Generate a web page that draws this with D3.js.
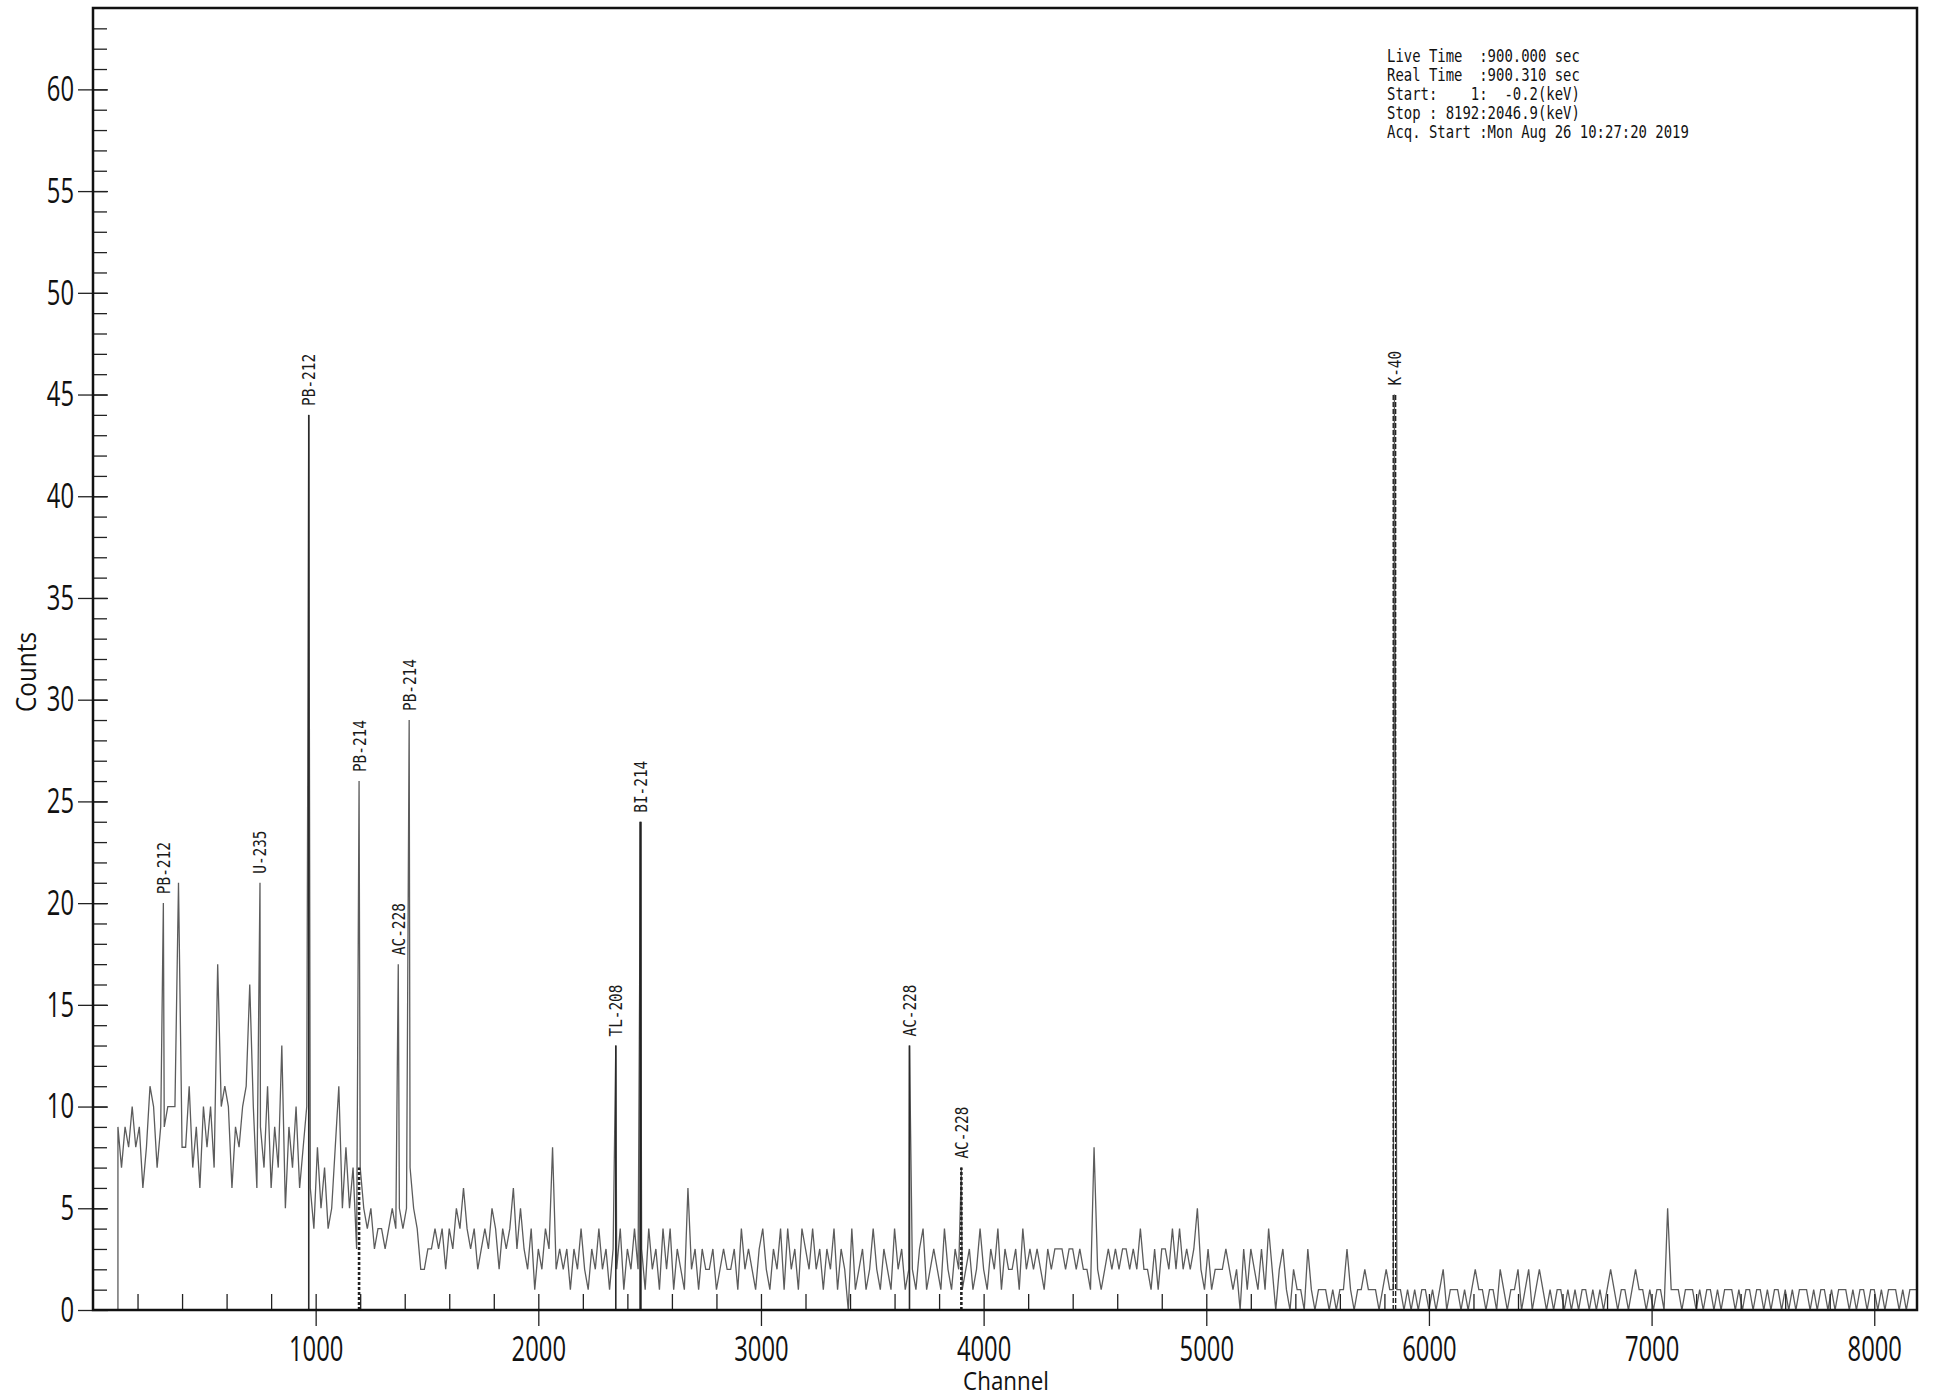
<!DOCTYPE html>
<html>
<head>
<meta charset="utf-8">
<script src="https://cdn.jsdelivr.net/npm/d3@7"></script>
<style>
  html, body { margin: 0; padding: 0; background: #fff; }
  svg { display: block; }
</style>
</head>
<body>
<script>
// Gamma spectrum, 8192 channels, 900 s live time.
// Counts are listed every 16 channels from channel 112; identified peaks are
// listed separately at their own channels.
const startChannel = 112;
const channelStep = 16;
const counts = [
  // 112 – 960
  9,7,9,8,10,8,9,6,8,11, 10,7,9,9,10,10,10,21,8,8, 11,7,9,6,10,8,10,7,17,10,
  11,10,6,9,8,10,11,16,10,6, 9,7,11,6,9,7,13,5,9,7, 10,6,8,10,
  // 976 – 1424
  6,4,8,5,7,4,5,8,11,5, 8,5,7,3,7,5,4,5,3,4, 4,3,4,5,4,5,4,5,7,
  // 1440 – 2048
  5,4,2, 2,3,3,4,3,4,2, 4,3,5,4,6,4,3,4,2,3, 4,3,5,4,2,4,3,4,6,3, 5,3,2,4,1,3,2,4,3,
  // 2064 – 2448
  8, 2,3,2,3,1,3,2,4,2,1,3,2,4,2,3,1,3, 2,4,1,3,2,4,2,
  // 2464 – 3664
  3,1,4,2,3,1,4,2,4,1, 3,2,1,6,2,3,1,3,2,2, 3,1,2,3,2,2,3,1,4,2, 3,2,1,3,4,2,1,3,2,4,
  1,4,2,3,1,4,3,2,4,2, 3,1,3,2,4,1,3,2,0,4, 1,2,3,1,2,4,2,1,3,2, 1,4,2,3,1,2,
  // 3680 – 3888
  2,1,3,4,1,2,3,2,1,4,2,1,3,2,
  // 3904 – 4480
  1,2,3,1,2,4,2,1,3,2, 4,1,3,2,2,3,1,4,2,3, 2,3,2,1,3,2,3,3,3,2, 3,3,2,3,2,2,1,
  // 4496
  8,
  // 4512 – 5200
  2,1,2,3,2,3,2,3,3,2, 3,2,4,2,2,1,3,1,3,3, 2,4,2,4,2,3,2,3,5,2, 1,3,1,2,2,2,3,2,1,2, 0,3,1,3,
  // 5216 – 5840
  2,1,3,1,4,2,0,2,3,1, 0,2,1,1,0,3,1,0,1,1, 1,0,1,0,1,1,3,1,0,1, 1,2,1,1,1,0,1,2,1,1,
  // 5856 – 8192
  1,1,0,1,0,1,0,1,1,0,1,0,1, 2, 0,1,1,1,0,1,0,1, 2, 1,1,0,1,1,0, 2, 1,0,1,1,
  2,0,1,2,0,1,2,
  1,0,1,0,1,1,0,1,0,1,0,1,1,0,1,0,1,0,1, 2, 1,0,1,1,0,1, 2, 1,1,0,1,0,1,1,0, 5,
  1,1,1,0,1,1,1,0,1,0, 1,1,0,1,0,1,1,1,0,1, 0,1,1,0,1,1,0,1,0,1, 1,0,1,0,1,0,1,1,1,0,
  1,0,1,1,0,1,0,1,1,1, 0,1,0,1,1,0,1,1,0,1, 0,1,1,1,0,1,0,1,1,1
];

// Identified peaks
const peakLabels   = ["PB-212", "U-235", "PB-212", "PB-214", "AC-228", "PB-214", "TL-208", "BI-214", "AC-228", "AC-228", "K-40"];
const peakChannels = [316, 750, 969, 1195, 1371, 1420, 2348, 2459, 3667, 3900, 5845];
const peakCounts   = [20, 21, 44, 26, 17, 29, 13, 24, 13, 7, 45];

// Region markers drawn from the baseline
const markerChannels = [969, 1195, 2348, 2459, 3667, 3900, 5845];
const markerTops     = [44, 7, 13, 24, 13, 7, 45];

// Axes
const xTickValues = [1000, 2000, 3000, 4000, 5000, 6000, 7000, 8000];
const yTickValues = [0, 5, 10, 15, 20, 25, 30, 35, 40, 45, 50, 55, 60];
const xTitle = "Channel";
const yTitle = "Counts";

// Acquisition info
const infoLines = [
  "Live Time  :900.000 sec",
  "Real Time  :900.310 sec",
  "Start:    1:  -0.2(keV)",
  "Stop : 8192:2046.9(keV)",
  "Acq. Start :Mon Aug 26 10:27:20 2019"
];

// ---------------------------------------------------------------------------
(function () {
const W = 1935, H = 1399;
const plotLeft = 93, plotRight = 1917, plotTop = 8, plotBottom = 1310;

const x = d3.scaleLinear().domain([0, 8192]).range([plotLeft, plotRight]);
const y = d3.scaleLinear().domain([0, 64]).range([plotBottom, plotTop]);

const svg = d3.select("body").append("svg")
  .attr("width", W).attr("height", H)
  .attr("viewBox", `0 0 ${W} ${H}`);

svg.append("rect").attr("width", W).attr("height", H).attr("fill", "#fff");

const tickFont = "'Open Sans', 'DejaVu Sans', sans-serif";
const monoFont = "'DejaVu Sans Mono', 'Liberation Mono', monospace";
const tickScale = 0.68;

// ---- spectrum trace
const points = [{ ch: startChannel, c: 0 }]
  .concat(counts.map((c, i) => ({ ch: startChannel + i * channelStep, c })))
  .concat(peakChannels.map((ch, i) => ({ ch, c: peakCounts[i] })))
  .sort((a, b) => a.ch - b.ch);

svg.append("defs").append("clipPath").attr("id", "plot-clip")
  .append("rect").attr("x", plotLeft).attr("y", plotTop)
  .attr("width", plotRight - plotLeft).attr("height", plotBottom - plotTop);

const plot = svg.append("g").attr("clip-path", "url(#plot-clip)");

const line = d3.line().x(d => x(d.ch)).y(d => y(d.c));

plot.append("path")
  .datum(points)
  .attr("d", line)
  .attr("fill", "none")
  .attr("stroke", "#5c5c5c")
  .attr("stroke-width", 1.3)
  .attr("stroke-linejoin", "miter");

// ---- markers
const markerStyle = { 1195: "dotted", 3900: "dotted", 2459: "thick", 5845: "double" };
markerChannels.forEach((ch, i) => {
  const style = markerStyle[ch] || "solid";
  const mx = x(ch);
  const y0 = y(0), y1 = y(markerTops[i]);
  const draw = (dx, w, dash, col) => plot.append("line")
    .attr("x1", mx + dx).attr("x2", mx + dx)
    .attr("y1", y0).attr("y2", y1)
    .attr("stroke", col).attr("stroke-width", w)
    .attr("stroke-dasharray", dash);
  if (style === "solid") {
    draw(0, 1.6, null, "#2a2a2a");
  } else if (style === "dotted") {
    draw(0, 2.6, "3,2", "#222");
  } else if (style === "thick") {
    draw(0, 2.4, null, "#222");
  } else {
    draw(-1.2, 1.4, "5,2", "#222");
    draw(1.2, 1.4, "5,2", "#222");
  }
});

// ---- axes
const axisStroke = "#222";

// x minor ticks (inside)
const xMinor = svg.append("g").attr("transform", `translate(0,${plotBottom})`)
  .call(d3.axisTop(x).tickValues(d3.range(200, 8192, 200)).tickSize(16).tickFormat(""));
// x major ticks (outside) with labels
const xMajor = svg.append("g").attr("transform", `translate(0,${plotBottom})`)
  .call(d3.axisBottom(x).tickValues(xTickValues).tickSize(16).tickPadding(10).tickFormat(d3.format("d")));

// y minor ticks (inside)
const yMinor = svg.append("g").attr("transform", `translate(${plotLeft},0)`)
  .call(d3.axisRight(y).tickValues(d3.range(1, 64)).tickSize(14).tickFormat(""));
// y major ticks, both sides
const yMajorIn = svg.append("g").attr("transform", `translate(${plotLeft},0)`)
  .call(d3.axisRight(y).tickValues(yTickValues).tickSize(15).tickFormat(""));
const yMajor = svg.append("g").attr("transform", `translate(${plotLeft},0)`)
  .call(d3.axisLeft(y).tickValues(yTickValues).tickSize(15).tickPadding(4).tickFormat(d3.format("d")));

[xMinor, xMajor, yMinor, yMajorIn, yMajor].forEach(a => {
  a.select(".domain").remove();
  a.selectAll(".tick line").attr("stroke", axisStroke).attr("stroke-width", 1.3);
  a.selectAll("text")
    .attr("fill", "#111")
    .style("font-family", tickFont)
    .style("font-size", "35px");
});

xMajor.selectAll("text").attr("transform", `scale(${tickScale},1)`);
yMajor.selectAll("text")
  .attr("x", -19 / tickScale)
  .attr("transform", `scale(${tickScale},1)`);

// frame
svg.append("rect")
  .attr("x", plotLeft).attr("y", plotTop)
  .attr("width", plotRight - plotLeft).attr("height", plotBottom - plotTop)
  .attr("fill", "none").attr("stroke", "#111").attr("stroke-width", 2.5);

// ---- peak labels
svg.append("g").selectAll("text")
  .data(peakLabels)
  .join("text")
  .attr("transform", (d, i) =>
    `translate(${x(peakChannels[i]) + 6.5},${y(peakCounts[i]) - 9}) rotate(-90) scale(0.8,1)`)
  .attr("text-anchor", "start")
  .style("font-family", monoFont)
  .style("font-size", "18px")
  .attr("fill", "#1a1a1a")
  .text(d => d);

// ---- axis titles
svg.append("text")
  .attr("transform", `translate(36,672) rotate(-90) scale(0.9,1)`)
  .attr("text-anchor", "middle")
  .style("font-family", tickFont)
  .style("font-size", "27px")
  .attr("fill", "#111")
  .text(yTitle);

svg.append("text")
  .attr("transform", `translate(1006,1390) scale(0.86,1)`)
  .attr("text-anchor", "middle")
  .style("font-family", tickFont)
  .style("font-size", "26px")
  .attr("fill", "#111")
  .text(xTitle);

// ---- acquisition info
svg.append("g").selectAll("text")
  .data(infoLines)
  .join("text")
  .attr("transform", (d, i) => `translate(1387,${61.5 + i * 19}) scale(0.82,1)`)
  .style("font-family", monoFont)
  .style("font-size", "17px")
  .style("white-space", "pre")
  .attr("xml:space", "preserve")
  .attr("fill", "#111")
  .text(d => d);
})();
</script>
</body>
</html>
